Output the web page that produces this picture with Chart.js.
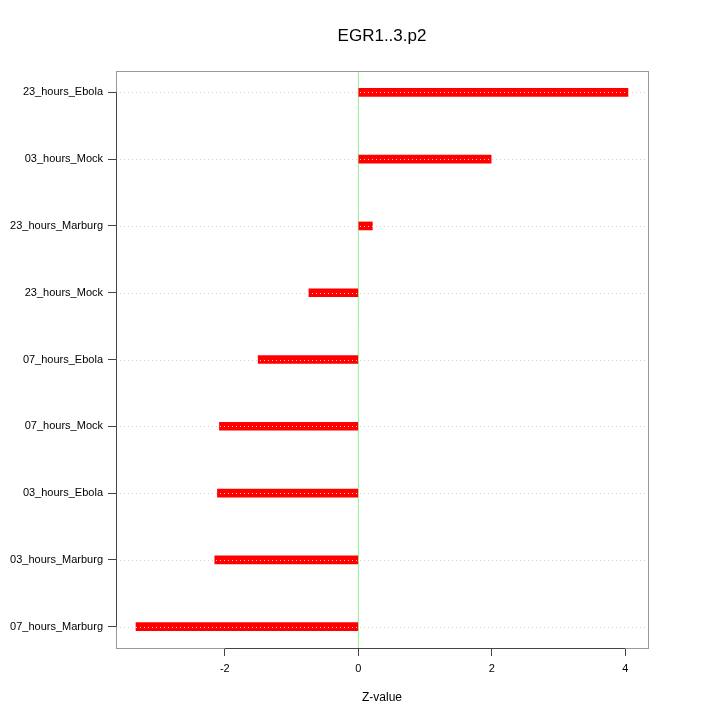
<!DOCTYPE html>
<html>
<head>
<meta charset="utf-8">
<script src="https://cdn.jsdelivr.net/npm/chart.js@4"></script>
<style>
  body { margin: 0; background: #fff; }
  #wrap { width: 720px; height: 720px; }
</style>
</head>
<body>
<div id="wrap"><canvas id="grafico" width="720" height="720"></canvas></div>
<script>
// categorias de baixo para cima (posição 1..9 no eixo y)
const categorias = [
  "07_hours_Marburg",
  "03_hours_Marburg",
  "03_hours_Ebola",
  "07_hours_Mock",
  "07_hours_Ebola",
  "23_hours_Mock",
  "23_hours_Marburg",
  "03_hours_Mock",
  "23_hours_Ebola"
];
const zValores = [-3.33, -2.15, -2.11, -2.08, -1.50, -0.74, 0.21, 1.99, 4.04];
const xTicks = [-2, 0, 2, 4];

const ctx = document.getElementById("grafico").getContext("2d");
Chart.defaults.font.family = "'Liberation Sans', Arial, sans-serif";
Chart.defaults.color = "#000";

// linhas pontilhadas, linha verde no zero e caixa do gráfico
const extras = {
  id: "extras",
  afterLayout(chart) {
    // centraliza o título sobre a área do gráfico
    const t = chart.titleBlock;
    t.left = chart.chartArea.left;
    t.right = chart.chartArea.right;
    t.width = t.right - t.left;
  },
  beforeDatasetsDraw(chart) {
    const { ctx, chartArea, scales } = chart;
    const x0 = scales.x.getPixelForValue(0);
    ctx.save();
    ctx.strokeStyle = "#90ee90";
    ctx.lineWidth = 1;
    ctx.beginPath();
    ctx.moveTo(x0, chartArea.top);
    ctx.lineTo(x0, chartArea.bottom);
    ctx.stroke();
    ctx.restore();
  },
  afterDatasetsDraw(chart) {
    const { ctx, chartArea, scales } = chart;
    ctx.save();
    ctx.strokeStyle = "#d3d3d3";
    ctx.lineWidth = 1;
    ctx.setLineDash([1, 3]);
    categorias.forEach((c, i) => {
      const y = Math.round(scales.y.getPixelForValue(i + 1)) + 0.5;
      ctx.beginPath();
      ctx.moveTo(chartArea.left, y);
      ctx.lineTo(chartArea.right, y);
      ctx.stroke();
    });
    ctx.setLineDash([]);
    // caixa
    ctx.strokeStyle = "#999";
    ctx.strokeRect(chartArea.left + 0.5, chartArea.top + 0.5,
      chartArea.right - chartArea.left, chartArea.bottom - chartArea.top);
    // linhas dos eixos
    ctx.strokeStyle = "#444";
    const yb = chartArea.bottom + 0.5;
    ctx.beginPath();
    ctx.moveTo(scales.x.getPixelForValue(xTicks[0]), yb);
    ctx.lineTo(scales.x.getPixelForValue(xTicks[xTicks.length - 1]), yb);
    ctx.stroke();
    const xl = chartArea.left + 0.5;
    ctx.beginPath();
    ctx.moveTo(xl, scales.y.getPixelForValue(1));
    ctx.lineTo(xl, scales.y.getPixelForValue(categorias.length));
    ctx.stroke();
    ctx.restore();
  }
};

const grafico = new Chart(ctx, {
  type: "bar",
  data: {
    datasets: [
      {
        data: categorias.map((c, i) => ({ x: zValores[i], y: i + 1 })),
        backgroundColor: "#ff0000",
        borderWidth: 0,
        barThickness: 8,
      },
    ],
  },
  options: {
    indexAxis: "y",
    responsive: false,
    animation: false,
    layout: { padding: { left: 0, right: 72, top: 0, bottom: 0 } },
    plugins: {
      legend: { display: false },
      tooltip: { enabled: false },
      title: {
        display: true,
        text: "EGR1..3.p2",
        font: { size: 17, weight: "normal" },
        color: "#000",
        padding: { top: 26, bottom: 24.6 },
      },
    },
    scales: {
      x: {
        type: "linear",
        min: -3.63,
        max: 4.34,
        afterBuildTicks: (scale) => {
          scale.ticks = xTicks.map((v) => ({ value: v }));
        },
        afterFit: (scale) => {
          scale.height = 72;
        },
        border: { display: false },
        grid: { drawOnChartArea: false, drawTicks: true, tickLength: 8, color: "#444", offset: false },
        ticks: { font: { size: 11 }, padding: 6, maxRotation: 0 },
        title: {
          display: true,
          text: "Z-value",
          font: { size: 12 },
          padding: { top: 4, bottom: 15 },
        },
      },
      y: {
        type: "linear",
        min: 0.68,
        max: 9.32,
        offset: false,
        afterBuildTicks: (scale) => {
          scale.ticks = categorias.map((c, i) => ({ value: i + 1 }));
        },
        afterFit: (scale) => {
          scale.width = 116;
        },
        border: { display: false },
        grid: { drawOnChartArea: false, drawTicks: true, tickLength: 8, color: "#444", offset: false },
        ticks: {
          font: { size: 11 },
          padding: 5,
          callback: (v) => categorias[v - 1],
        },
      },
    },
  },
  plugins: [extras],
});
</script>
</body>
</html>
